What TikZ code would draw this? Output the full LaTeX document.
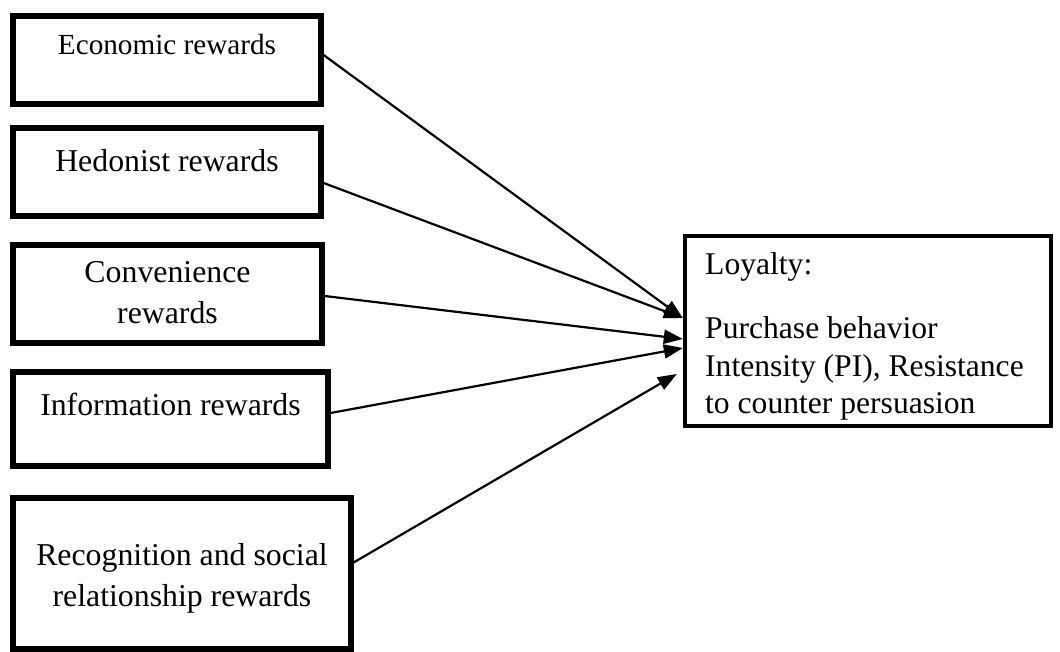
\documentclass[tikz,border=0pt]{standalone}
\usepackage{fontspec}
\setmainfont{Liberation Serif}
\usepackage{tikz}
\usetikzlibrary{arrows.meta, positioning, calc}

\begin{document}
\begin{tikzpicture}[x=0.5pt,y=-0.5pt,
	rbox/.style={draw,line width=2.6pt,inner sep=0pt},
	rtext/.style={font=\fontsize{15.9}{20.5}\selectfont,inner sep=0pt,align=center},
	>={Triangle[length=9.5pt,width=7pt]}]
					\useasboundingbox (0,0) rectangle (1060,652);
					\node[rbox,minimum width=154pt,minimum height=44pt] (eco) at (167,60) {};
					\node[rbox,minimum width=154pt,minimum height=44pt] (hed) at (167,172) {};
					\node[rbox,minimum width=154.5pt,minimum height=49pt] (con) at (167.5,294) {};
					\node[rbox,minimum width=157.5pt,minimum height=47pt] (inf) at (170.5,419) {};
					\node[rbox,minimum width=169pt,minimum height=75.5pt] (rec) at (182,573.5) {};
					\node[rbox,line width=2.2pt,minimum width=183pt,minimum height=95pt] (loy) at (868,331) {};
					\node[rtext,anchor=base,font=\fontsize{14.6}{18}\selectfont] (ecot) at ($(eco.north)+(0,41)$) {Economic rewards};
					\node[rtext,anchor=base] (hedt) at ($(hed.north)+(0,46)$) {Hedonist rewards};
					\node[rtext,anchor=base] (cont) at ($(con.north)+(0,81)$) {Convenience\\rewards};
					\node[rtext,anchor=base] (inft) at ($(inf.north)+(0,46)$) {Information rewards};
					\node[rtext,anchor=base] (rect) at ($(rec.north)+(0,111)$) {Recognition and social\\relationship rewards};
					\node[rtext,anchor=north west,align=left,font=\fontsize{15.8}{18.8}\selectfont] (loyt) at ($(loy.north west)+(22,18)$) {Loyalty:\\[13.5pt]Purchase behavior\\Intensity (PI), Resistance\\to counter persuasion};
					\draw[->,line width=1.1pt] ($(eco.east)+(0,-5)$) to ($(loy.west)+(0,-13)$);
					\draw[->,line width=1.1pt] ($(hed.east)+(0,11)$) to ($(loy.west)+(0,-13)$);
					\draw[->,line width=1.1pt] ($(con.east)+(0,2)$) to ($(loy.west)+(0,8)$);
					\draw[->,line width=1.1pt] ($(inf.east)+(0,-6)$) to ($(loy.west)+(0,17)$);
					\draw[->,line width=1.1pt] ($(rec.east)+(0,-11)$) to ($(loy.west)+(-6,43)$);
				\end{tikzpicture}
\end{document}
